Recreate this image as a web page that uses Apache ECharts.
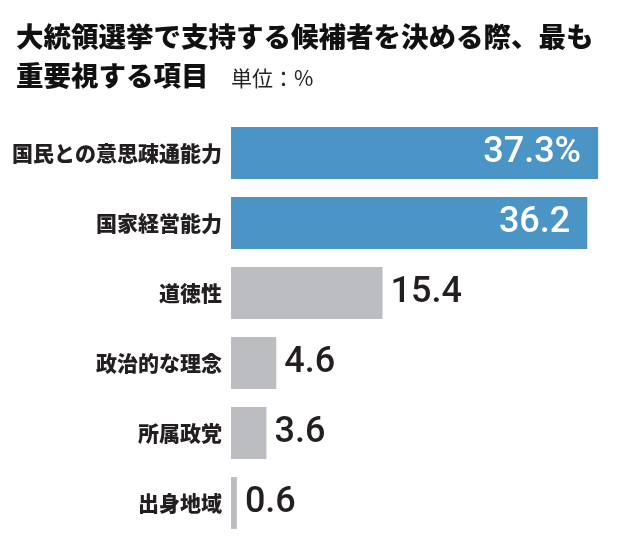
<!DOCTYPE html>
<html>
<head>
<meta charset="utf-8">
<title>重視する項目</title>
<script src="https://cdn.jsdelivr.net/npm/echarts@6/dist/echarts.min.js"></script>
<style>
  html, body { margin: 0; padding: 0; background: #fff; }
  #main { width: 620px; height: 556px; }
</style>
</head>
<body>
<div id="main"></div>
<script>
const categories = ['国民との意思疎通能力', '国家経営能力', '道徳性', '政治的な理念', '所属政党', '出身地域'];
const values = [37.3, 36.2, 15.4, 4.6, 3.6, 0.6];
const highlighted = [true, true, false, false, false, false];

// no condensed face installed, Roboto has the narrowest digits of what is there
const numFont = 'Roboto, "Liberation Sans", sans-serif';
const cjkFont = '"Noto Sans CJK JP", sans-serif';

const chart = echarts.init(document.getElementById('main'));

const data = values.map((v, i) => ({
  value: v,
  itemStyle: { color: highlighted[i] ? '#4a95c5' : '#bcbdc0' },
  label: highlighted[i]
    ? { position: 'insideRight', distance: 17, color: '#fff' }
    : { position: 'right', distance: 8, color: '#231f20' }
}));

chart.setOption({
  animation: false,
  title: [{
    text: '大統領選挙で支持する候補者を決める際、最も\n重要視する項目',
    left: 11, top: 12,
    textStyle: { fontFamily: cjkFont, fontWeight: 900, fontSize: 27.5, lineHeight: 39, color: '#111' }
  }, {
    text: '単位：%',
    left: 226, top: 63,
    textStyle: { fontFamily: cjkFont, fontWeight: 'normal', fontSize: 21, color: '#222' }
  }],
  grid: { left: 231, right: 15, top: 118, height: 420 },
  xAxis: { type: 'value', min: 0, max: 38, show: false },
  yAxis: {
    type: 'category',
    data: categories,
    inverse: true,
    axisLine: { show: false },
    axisTick: { show: false },
    axisLabel: { margin: 9, fontFamily: cjkFont, fontWeight: 900, fontSize: 21, color: '#231f20' }
  },
  series: [{
    type: 'bar',
    data: data,
    barCategoryGap: '26%',
    label: {
      show: true,
      fontFamily: numFont,
      fontWeight: 500,
      fontSize: 36,
      formatter: p => p.dataIndex === 0 ? p.value + '%' : String(p.value)
    }
  }]
});
</script>
</body>
</html>
